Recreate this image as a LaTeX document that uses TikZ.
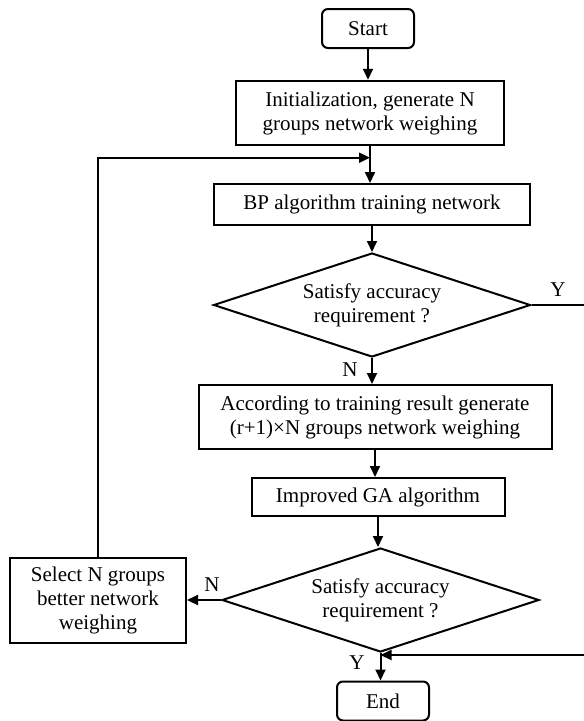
\documentclass[tikz,border=0pt]{standalone}
\usepackage{fontspec}
\setmainfont{Liberation Serif}
\usetikzlibrary{shapes.geometric, arrows.meta}

\begin{document}
\begin{tikzpicture}[x=1pt,y=-1pt,>={Triangle[length=11pt,width=10pt]},line width=2pt,
                    font=\fontsize{21pt}{24pt}\selectfont]
\tikzstyle{block}=[draw,rectangle,align=center,inner sep=2pt]
\tikzstyle{term}=[block,rounded corners=6pt,minimum width=92pt,minimum height=39pt]
\tikzstyle{decision}=[draw,diamond,aspect=3,align=center,inner sep=0pt,
                      minimum width=317pt,minimum height=104pt]
\tikzstyle{lbl}=[inner sep=0pt]

\useasboundingbox (0,0) rectangle (584,721);

        \node[term]                                          (start)  at (368,28.5)  {Start};
        \node[block,minimum width=268pt,minimum height=64.5pt] (init)   at (370,113)   {Initialization, generate N\\groups network weighing};
        \node[block,minimum width=316pt,minimum height=41pt]   (bp)     at (372,204.5) {BP algorithm training network};
        \node[decision]                                      (check1) at (372,305)   {Satisfy accuracy\\requirement ?};
        \node[block,minimum width=353pt,minimum height=64pt]   (gen)    at (375,417)   {According to training result generate\\(r+1)×N groups network weighing};
        \node[block,minimum width=253pt,minimum height=38pt]   (ga)     at (378,497)   {Improved GA algorithm};
        \node[decision]                                      (check2) at (380.5,600) {Satisfy accuracy\\requirement ?};
        \node[term]                                          (end)    at (383,701)   {End};
        \node[block,minimum width=176pt,minimum height=85pt]   (select) at (98,600)    {Select N groups\\better network\\weighing};

        \node[lbl] (y1) at (558,290) {Y};
        \node[lbl] (n1) at (350,370) {N};
        \node[lbl] (n2) at (212,585) {N};
        \node[lbl] (y2) at (357,663) {Y};

        \coordinate (join) at (370,157.7);
        \coordinate (rtop) at (592,305);
        \coordinate (rbot) at (592,655);

        \path[->]
        (start.south)  edge (start.south |- init.north)
        (init.south)   edge (init.south |- bp.north)
        (bp.south)     edge (check1.north)
        (check1.south) edge (check1.south |- gen.north)
        (gen.south)    edge (gen.south |- ga.north)
        (ga.south)     edge (ga.south |- check2.north)
        (check2.south) edge (check2.south |- end.north)
        (check2.west)  edge (select.east)
        ; %end path

        \draw[->] (select.north) |- (join);
        \draw (check1.east) -- (rtop) -- (rbot);
        \draw[->] (rbot) -- (rbot -| check2.south);

\end{tikzpicture}
\end{document}
